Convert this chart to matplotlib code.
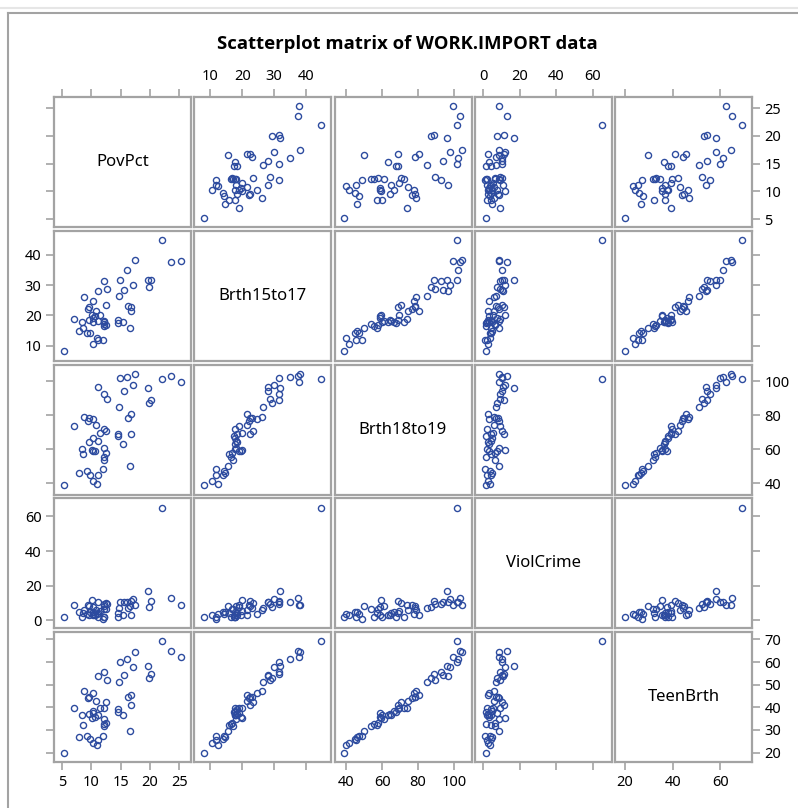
import numpy as np
import matplotlib
matplotlib.use('Agg')
import matplotlib.pyplot as plt
from matplotlib.lines import Line2D

plt.rcParams['font.family'] = ['Noto Sans', 'DejaVu Sans']

# data (51 states)
pov_pct = [20.1, 7.1, 16.1, 14.9, 16.7, 8.8, 9.7, 10.3, 22.0, 16.2, 12.1, 10.3, 14.5,
           12.4, 9.6, 12.2, 10.8, 14.7, 19.7, 11.2, 10.1, 11.0, 12.2, 9.2, 23.5, 9.4,
           15.3, 9.6, 11.1, 5.3, 7.8, 25.3, 16.5, 12.6, 12.0, 11.5, 17.1, 11.2, 12.2,
           10.6, 19.9, 14.5, 15.5, 17.4, 8.4, 10.3, 10.2, 12.5, 16.7, 8.5, 12.2]
brth15to17 = [31.5, 18.9, 35.0, 31.6, 22.6, 26.2, 14.1, 24.7, 44.8, 23.2, 31.4, 17.7, 18.4,
              23.4, 22.6, 16.4, 21.4, 26.5, 31.7, 11.9, 20.0, 12.5, 18.0, 14.2, 37.6, 22.2,
              17.8, 18.3, 28.0, 8.1, 14.7, 37.8, 15.7, 28.6, 11.7, 20.1, 30.1, 18.2, 17.2,
              19.6, 29.2, 17.3, 28.2, 38.2, 17.8, 10.4, 19.0, 16.8, 21.5, 15.9, 17.7]
brth18to19 = [88.7, 73.7, 102.5, 101.7, 69.1, 79.1, 45.1, 77.8, 101.5, 78.4, 92.8, 66.4, 69.1,
              70.5, 78.5, 55.4, 74.2, 84.8, 96.1, 45.2, 59.6, 39.6, 60.8, 47.3, 103.3, 76.6,
              63.3, 64.2, 96.7, 39.0, 46.1, 99.5, 50.1, 89.3, 48.7, 69.4, 97.6, 64.8, 53.7,
              59.0, 87.2, 67.8, 94.2, 104.3, 60.2, 41.4, 59.0, 57.6, 80.7, 57.1, 72.1]
viol_crime = [11.2, 9.1, 10.4, 10.4, 11.2, 5.8, 4.6, 3.5, 65.0, 7.3, 9.5, 4.7, 4.1,
              10.3, 8.0, 1.8, 6.2, 7.2, 17.0, 2.0, 11.8, 3.6, 8.5, 3.9, 12.9, 8.8,
              3.0, 2.9, 10.7, 1.8, 5.1, 8.8, 8.5, 9.4, 0.9, 5.4, 12.2, 4.1, 6.3,
              3.3, 7.9, 1.8, 10.6, 9.0, 2.2, 2.9, 7.8, 6.4, 2.9, 4.3, 2.1]
teen_brth = [54.5, 39.5, 61.2, 59.9, 41.1, 47.0, 25.8, 46.3, 69.1, 44.5, 55.7, 38.2, 39.1,
             42.2, 44.6, 32.5, 43.0, 51.0, 58.1, 25.4, 35.4, 23.3, 34.8, 27.5, 64.7, 44.1,
             36.4, 37.0, 53.9, 20.0, 26.8, 62.4, 29.5, 52.2, 27.2, 39.5, 58.0, 36.8, 31.6,
             35.6, 53.0, 38.0, 54.3, 64.4, 36.8, 24.2, 37.6, 33.0, 45.5, 32.3, 39.9]

names = ['PovPct', 'Brth15to17', 'Brth18to19', 'ViolCrime', 'TeenBrth']
cols = [pov_pct, brth15to17, brth18to19, viol_crime, teen_brth]
xticks = [[5, 10, 15, 20, 25], [10, 20, 30, 40], [40, 60, 80, 100], [0, 20, 40, 60], [20, 40, 60]]
yticks = [[5, 10, 15, 20, 25], [10, 20, 30, 40], [40, 60, 80, 100], [0, 20, 40, 60],
          [20, 30, 40, 50, 60, 70]]

W, H = 798, 808
fig = plt.figure(figsize=(W / 100, H / 100), dpi=100)

# axis limits with a bit of padding
lims = []
for c in cols:
    lo, hi = min(c), max(c)
    pad = 0.085 * (hi - lo)
    lims.append((lo - pad, hi + pad))

grey = '#a3a3a3'
mark = '#2d4b9f'
x0, y0 = 54, 97
pw, ph = 137, 130
dx, dy = 140.25, 133.75

for i in range(5):
    for j in range(5):
        left = x0 + j * dx
        top = y0 + i * dy
        ax = fig.add_axes([left / W, 1 - (top + ph) / H, pw / W, ph / H])
        ax.set_xlim(lims[j])
        ax.set_ylim(lims[i])
        for s in ax.spines.values():
            s.set_color(grey)
            s.set_linewidth(1.6)
        if i == j:
            ax.text(0.5, 0.5, names[i], transform=ax.transAxes, ha='center', va='center',
                    fontsize=12)
        else:
            ax.plot(cols[j], cols[i], 'o', ls='none', ms=4.4, mfc='none', mec=mark, mew=1.0)

        ax.set_xticks(xticks[j])
        ax.set_yticks(yticks[i])
        ax.tick_params(which='both', direction='out', length=6, width=1.2, color=grey,
                       labelsize=10.5, pad=3,
                       top=(i == 0), bottom=(i == 4), left=(j == 0), right=(j == 4),
                       labeltop=(i == 0 and j % 2 == 1), labelbottom=(i == 4 and j % 2 == 0),
                       labelleft=(j == 0 and i % 2 == 1), labelright=(j == 4 and i % 2 == 0))

fig.text(407 / W, 1 - 44 / H, 'Scatterplot matrix of WORK.IMPORT data', ha='center', va='center',
         fontsize=13.3, fontweight='bold', family=['Open Sans', 'Liberation Sans', 'DejaVu Sans'])

# window frame lines
fig.add_artist(Line2D([0, 1], [1 - 8 / H, 1 - 8 / H], color='#e6e6e6', lw=1.5,
                      transform=fig.transFigure))
fig.add_artist(Line2D([8 / W, 1], [1 - 12.5 / H, 1 - 12.5 / H], color=grey, lw=1.5,
                      transform=fig.transFigure))
fig.add_artist(Line2D([8 / W, 8 / W], [0, 1 - 12.5 / H], color=grey, lw=1.5,
                      transform=fig.transFigure))

fig.savefig('out.png', dpi=100)
